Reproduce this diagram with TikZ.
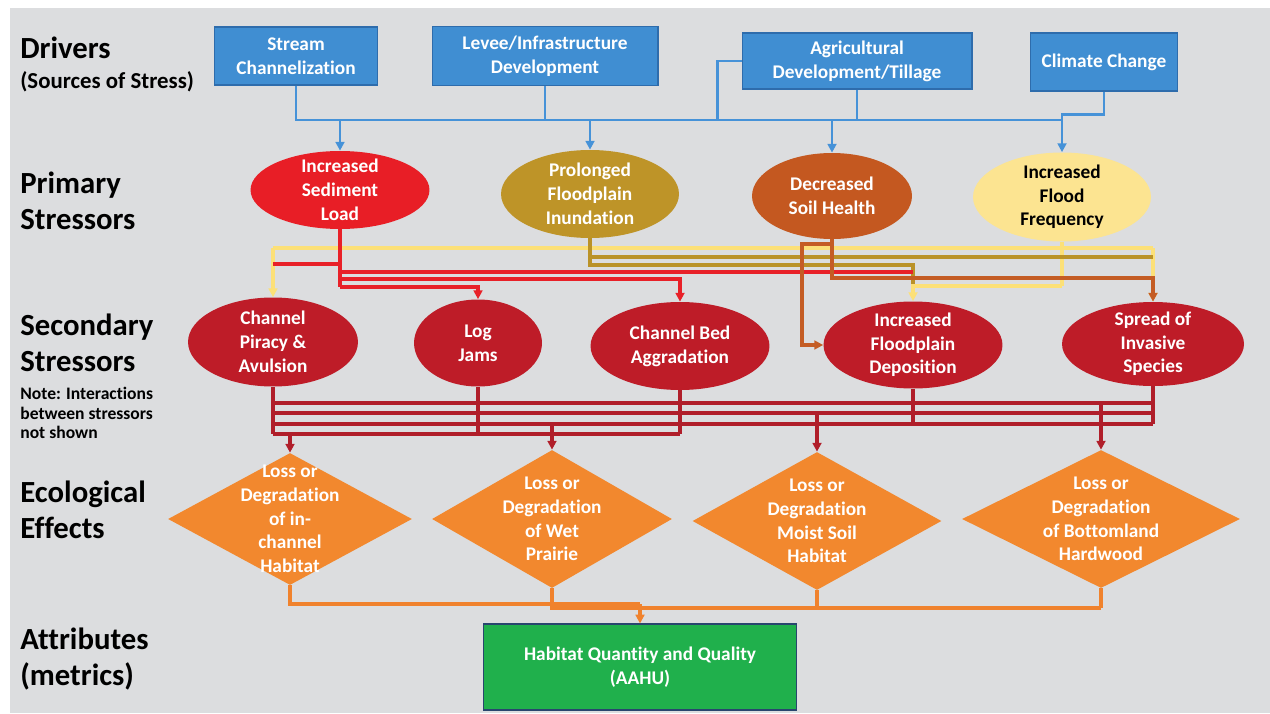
\documentclass[tikz,border=0pt]{standalone}
\usepackage{fontspec}
\setmainfont{Carlito}[Ligatures=NoCommon]
\usetikzlibrary{shapes.geometric,arrows.meta}

\definecolor{bggray}{RGB}{220,221,223}
\definecolor{drvblue}{RGB}{64,142,210}
\definecolor{drvedge}{RGB}{46,108,172}
\definecolor{lineblue}{RGB}{70,146,216}
\definecolor{sedred}{RGB}{232,30,38}
\definecolor{inungold}{RGB}{190,148,40}
\definecolor{soilrust}{RGB}{196,88,32}
\definecolor{floodyel}{RGB}{252,228,145}
\definecolor{secred}{RGB}{190,28,40}
\definecolor{effor}{RGB}{242,136,46}
\definecolor{attgreen}{RGB}{32,176,76}
\definecolor{attedge}{RGB}{40,70,110}
\definecolor{yelline}{RGB}{252,224,120}
\definecolor{goldline}{RGB}{186,146,40}
\definecolor{redline}{RGB}{232,32,40}
\definecolor{rustline}{RGB}{196,92,36}
\definecolor{secline}{RGB}{176,30,42}
\definecolor{orline}{RGB}{240,130,45}

\tikzset{
  driver/.style={draw=drvedge, line width=0.6pt, fill=drvblue, text=white, align=center,
    inner sep=0pt, font=\bfseries\fontsize{11}{13.5}\selectfont},
  stress/.style={ellipse, inner sep=0pt},
  effect/.style={diamond, fill=effor, inner sep=0pt},
  intext/.style={align=center, inner sep=0pt, font=\bfseries\fontsize{11}{13.5}\selectfont},
  attr/.style={draw=attedge, line width=0.6pt, fill=attgreen, text=white, align=center,
    inner sep=0pt, font=\bfseries\fontsize{11}{13.5}\selectfont},
  rowlabel/.style={anchor=west, align=left, inner sep=0pt, font=\bfseries\fontsize{17.5}{20.5}\selectfont},
  notelabel/.style={anchor=west, align=left, inner sep=0pt, font=\bfseries\fontsize{10}{11}\selectfont},
  blink/.style={lineblue, line width=1.4pt},
  link/.style={line width=2pt},
  >={Triangle[length=5pt,width=5pt]}
}

\begin{document}
\begin{tikzpicture}[x=0.02cm, y=-0.02cm]
\useasboundingbox (0,0) rectangle (1270,713);
\fill[white] (0,0) rectangle (1270,713);
\fill[bggray] (10,8) rectangle (1270,713);

% row labels on the left
\node[rowlabel] (lbdrv) at (20,48) {Drivers};
\node[rowlabel, font=\bfseries\fontsize{13}{15}\selectfont] (lbsrc) at (20,82) {(Sources of Stress)};
\node[rowlabel] (lbpri) at (20,201) {Primary\\Stressors};
\node[rowlabel] (lbsec) at (20,343) {Secondary\\Stressors};
\node[notelabel] (lbnote) at (20,413) {Note: Interactions\\between stressors\\not shown};
\node[rowlabel] (lbeco) at (20,510) {Ecological\\Effects};
\node[rowlabel] (lbatt) at (20,659) {Attributes\\(metrics)};

% drivers
\node[driver, minimum width=3.26cm, minimum height=1.16cm] (sc) at (296,56) {Stream\\Channelization};
\node[driver, minimum width=4.52cm, minimum height=1.18cm] (lv) at (545,56) {Levee/Infrastructure\\Development};
\node[driver, minimum width=4.6cm, minimum height=1.12cm] (ag) at (857,61) {Agricultural\\Development/Tillage};
\node[driver, minimum width=2.94cm, minimum height=1.16cm] (cc) at (1104,62) {Climate Change};

% primary stressors
\foreach \nm/\x/\y/\w/\h/\col/\tc/\txt in {
  sed/340/190/3.58/1.56/sedred/white/{Increased\\Sediment\\Load},
  pfi/590/194/3.56/1.76/inungold/white/{Prolonged\\Floodplain\\Inundation},
  dsh/832/196/3.2/1.72/soilrust/white/{Decreased\\Soil Health},
  ff/1062/197/3.56/1.78/floodyel/black/{Increased\\Flood\\Frequency}}
{
  \node[stress, fill=\col, minimum width=\w cm, minimum height=\h cm] (\nm) at (\x,\y) {};
  \node[intext, text=\tc] (\nm txt) at (\nm) {\txt};
}

% secondary stressors
\foreach \nm/\x/\y/\w/\h/\txt in {
  pir/273/342/3.4/1.78/{Channel\\Piracy \&\\Avulsion},
  log/478/343/2.56/1.74/{Log\\Jams},
  bed/680/346/3.58/1.76/{Channel Bed\\Aggradation},
  dep/913/345/3.58/1.74/{Increased\\Floodplain\\Deposition},
  spr/1153/344/3.64/1.68/{Spread of\\Invasive\\Species}}
{
  \node[stress, fill=secred, minimum width=\w cm, minimum height=\h cm] (\nm) at (\x,\y) {};
  \node[intext, text=white] (\nm txt) at (\nm) {\txt};
}

% ecological effects
\foreach \nm/\x/\y/\w/\h/\txt in {
  e1/290/519/4.88/2.64/{Loss or\\Degradation\\of in-\\channel\\Habitat},
  e2/552/519/4.8/2.76/{Loss or\\Degradation\\of Wet\\Prairie},
  e3/817/521/4.98/2.76/{Loss or\\Degradation\\Moist Soil\\Habitat},
  e4/1101/519/5.56/2.76/{Loss or\\Degradation\\of Bottomland\\Hardwood}}
{
  \node[effect, minimum width=\w cm, minimum height=\h cm] (\nm) at (\x,\y) {};
  \node[intext, text=white] (\nm txt) at (\nm) {\txt};
}

% attribute
\node[attr, minimum width=6.26cm, minimum height=1.72cm] (att) at (640,667) {Habitat Quantity and Quality\\(AAHU)};

% drivers -> primary stressors
\coordinate (db) at (0,120);
\draw[blink] (sc.south) -- (sc.south |- db) -- (ff.north |- db);
\draw[blink] (lv.south) -- (lv.south |- db);
\draw[blink] (ag.south) -- (ag.south |- db);
\draw[blink] (ag.west) -- ++(-24,0) |- (ag.south |- db);
\draw[blink, ->] (cc.south) -- ++(0,23) -| (ff.north);
\foreach \nm in {sed,pfi,dsh}
  \draw[blink, ->] (\nm.north |- db) -- (\nm.north);

% primary -> secondary stressors
\coordinate (bb1) at (0,244);
\coordinate (yb) at (0,248);
\coordinate (ob1) at (0,257);
\coordinate (rb0) at (0,264);
\coordinate (ob2) at (0,265);
\coordinate (rb1) at (0,272);
\coordinate (bb2) at (0,278);
\coordinate (rb2) at (0,279);
\coordinate (yd) at (0,286);
\coordinate (rb3) at (0,287);
% flood frequency
\draw[link, yelline] (pir.north |- yb) -- (spr.north |- yb);
\draw[link, yelline, ->] (pir.north |- yb) -- (pir.north);
\draw[link, yelline, ->] (spr.north |- yb) -- (spr.north);
\draw[link, yelline] (ff.south) -- (ff.south |- yd);
% floodplain inundation
\draw[link, goldline] (pfi.south) -- (pfi.south |- ob2) -| (dep.north |- yd);
\draw[link, goldline] (pfi.south |- ob1) -- (spr.north |- ob1);
\draw[link, yelline, ->] (ff.south |- yd) -| (dep.north);
% sediment load
\draw[link, redline] (sed.south) -- (sed.south |- rb3);
\draw[link, redline] (sed.south |- rb0) -- (pir.north |- rb0);
\draw[link, redline] (sed.south |- rb1) -- (dep.north |- rb1);
\draw[link, redline, ->] (sed.south |- rb2) -| (bed.north);
\draw[link, redline, ->] (sed.south |- rb3) -| (log.north);
% soil health
\draw[link, rustline, ->] (dsh.south) -- (dsh.south |- bb2) -| (spr.north);
\draw[link, rustline, ->] (dsh.south |- bb1) -- ++(-30,0) |- (dep.west);

% secondary stressors -> ecological effects
\coordinate (sb1) at (0,403);
\coordinate (sb2) at (0,413);
\coordinate (sb3) at (0,424);
\coordinate (sb4) at (0,434);
\foreach \nm in {pir,log,bed}
  \draw[link, secline] (\nm.south) -- (\nm.south |- sb4);
\foreach \nm in {dep,spr}
  \draw[link, secline] (\nm.south) -- (\nm.south |- sb3);
\foreach \b in {sb1,sb2,sb3}
  \draw[link, secline] (pir.south |- \b) -- (spr.south |- \b);
\draw[link, secline] (pir.south |- sb4) -- (bed.south |- sb4);
\draw[link, secline, ->] (e1.north |- sb4) -- (e1.north);
\draw[link, secline, ->] (e2.north |- sb3) -- (e2.north);
\draw[link, secline, ->] (e3.north |- sb2) -- (e3.north);
\draw[link, secline, ->] (e4.north |- sb1) -- (e4.north);

% ecological effects -> attribute
\coordinate (ab1) at (0,604);
\coordinate (ab2) at (0,608);
\draw[link, orline] (e1.south) |- (att.north |- ab1);
\draw[link, orline] (e2.south) |- (e4.south |- ab2);
\draw[link, orline] (e3.south) -- (e3.south |- ab2);
\draw[link, orline] (e4.south) -- (e4.south |- ab2);
\draw[link, orline, ->] (att.north |- ab1) -- (att.north);
\end{tikzpicture}
\end{document}
